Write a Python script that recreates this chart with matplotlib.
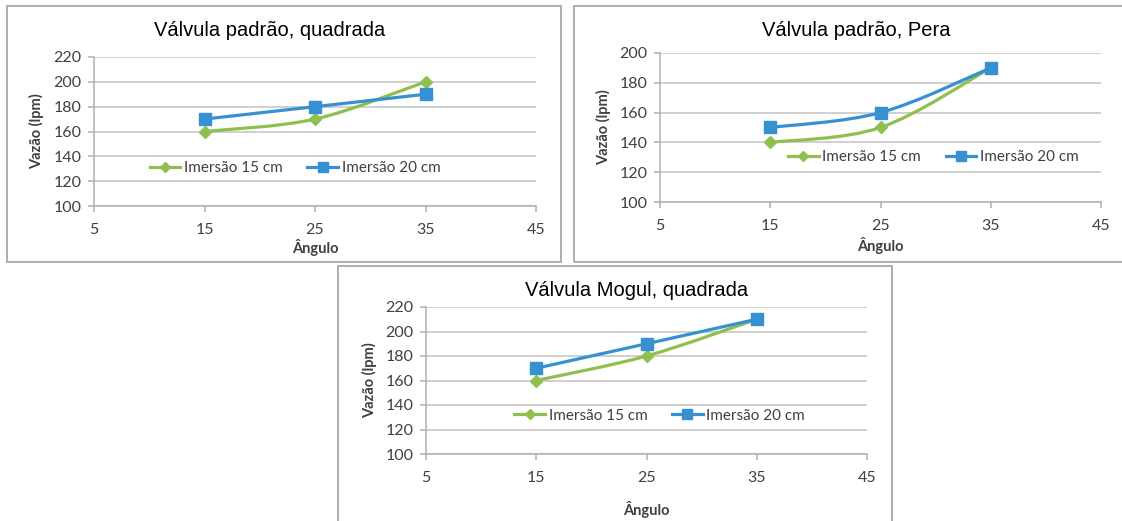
import numpy as np
import matplotlib
matplotlib.use("Agg")
import matplotlib.pyplot as plt
from matplotlib.path import Path
from matplotlib.patches import PathPatch, Rectangle
from matplotlib.lines import Line2D

plt.rcParams['font.family'] = ['Lato', 'DejaVu Sans']

# Dados -------------------------------------------
angulos = [15, 25, 35]

quad_15 = [160, 170, 200]
quad_20 = [170, 180, 190]

pera_15 = [140, 150, 190]
pera_20 = [150, 160, 190]

mogul_15 = [160, 180, 210]
mogul_20 = [170, 190, 210]

titulos = ["Válvula padrão, quadrada", "Válvula padrão, Pera", "Válvula Mogul, quadrada"]
rotulos = ["Imersão 15 cm", "Imersão 20 cm"]
xticks = [5, 15, 25, 35, 45]
# -------------------------------------------------

verde = "#8fc04f"
azul = "#3790d2"
cinza_txt = "#404040"

W, H = 1122, 521
fig = plt.figure(figsize=(W/100, H/100), dpi=100)


def rect(l, t, r, b):
    return [l/W, 1 - b/H, (r - l)/W, (b - t)/H]


def suave(ax, x, y, cor):
    # curva suavizada (bezier tipo Catmull-Rom) passando pelos pontos
    x = np.asarray(x, float); y = np.asarray(y, float)
    n = len(x)
    verts = [(x[0], y[0])]
    codes = [Path.MOVETO]
    for i in range(n - 1):
        p0 = np.array([x[max(i-1, 0)], y[max(i-1, 0)]])
        p1 = np.array([x[i], y[i]])
        p2 = np.array([x[i+1], y[i+1]])
        p3 = np.array([x[min(i+2, n-1)], y[min(i+2, n-1)]])
        c1 = p1 + (p2 - p0)/6
        c2 = p2 - (p3 - p1)/6
        verts += [tuple(c1), tuple(c2), tuple(p2)]
        codes += [Path.CURVE4]*3
    ax.add_patch(PathPatch(Path(verts, codes), facecolor="none", edgecolor=cor,
                           lw=2.3, capstyle="round", joinstyle="round", zorder=3))


# molduras dos gráficos
for l, t, r, b in [(7, 6, 561, 262), (574, 6, 1130, 262), (338, 266, 892, 530)]:
    fig.patches.append(Rectangle((l/W, 1 - b/H), (r - l)/W, (b - t)/H,
                                 transform=fig.transFigure, fill=False,
                                 edgecolor="#a8a8a8", lw=1.3))

paineis = [
    dict(r=(94, 57, 536, 206), y15=quad_15, y20=quad_20, ymax=220,
         tit=(270, 31), ylab=37, xlab=248, leg=(0.455, 0.255)),
    dict(r=(660, 53, 1101, 202), y15=pera_15, y20=pera_20, ymax=200,
         tit=(856, 31), ylab=604, xlab=245, leg=(0.62, 0.30)),
    dict(r=(426, 307, 867, 454), y15=mogul_15, y20=mogul_20, ymax=220,
         tit=(637, 290), ylab=370, xlab=509, leg=(0.53, 0.26)),
]

for p, tit in zip(paineis, titulos):
    l, t, r, b = p["r"]
    ax = fig.add_axes(rect(l, t, r, b))
    ax.set_xlim(5, 45)
    ax.set_ylim(100, p["ymax"])
    ax.set_xticks(xticks)
    ax.set_yticks(np.arange(100, p["ymax"] + 1, 20))
    ax.grid(axis="y", color="#c4c4c4", lw=1.1)
    ax.set_axisbelow(True)
    for s in ["top", "right"]:
        ax.spines[s].set_visible(False)
    for s in ["left", "bottom"]:
        ax.spines[s].set_color("#b0b0b0")
        ax.spines[s].set_linewidth(1.1)
    ax.tick_params(colors="#b0b0b0", labelcolor=cinza_txt, labelsize=11.5,
                   length=4, width=1.1, direction="out")
    ax.tick_params(axis="x", pad=8)
    ax.tick_params(axis="y", pad=5)

    suave(ax, angulos, p["y15"], verde)
    suave(ax, angulos, p["y20"], azul)
    ax.plot(angulos, p["y15"], ls="none", marker="D", ms=6, color=verde, zorder=4)
    ax.plot(angulos, p["y20"], ls="none", marker="s", ms=8, color=azul, zorder=4)

    alcas = [Line2D([], [], color=verde, lw=2.3, marker="D", ms=5),
             Line2D([], [], color=azul, lw=2.3, marker="s", ms=7)]
    leg = ax.legend(alcas, rotulos, loc="center", bbox_to_anchor=p["leg"],
                    ncol=2, frameon=True, fontsize=11, handlelength=2.0,
                    handletextpad=0.25, columnspacing=1.6, borderpad=0.15)
    leg.get_frame().set_edgecolor("none")
    leg.get_frame().set_facecolor("white")
    leg.get_frame().set_alpha(1)
    for txt in leg.get_texts():
        txt.set_color(cinza_txt)

    fig.text(p["tit"][0]/W, 1 - p["tit"][1]/H, tit, ha="center", va="center",
             fontsize=14.5, family="Liberation Sans", color="black")
    fig.text(p["ylab"]/W, 1 - ((t + b)/2)/H, "Vazão (lpm)", rotation=90,
             ha="center", va="center", fontsize=10.5, fontweight="bold", color=cinza_txt)
    fig.text(((l + r)/2)/W, 1 - p["xlab"]/H, "Ângulo", ha="center", va="center",
             fontsize=10.5, fontweight="bold", color=cinza_txt)

fig.savefig("out.png", dpi=100, facecolor="white")
